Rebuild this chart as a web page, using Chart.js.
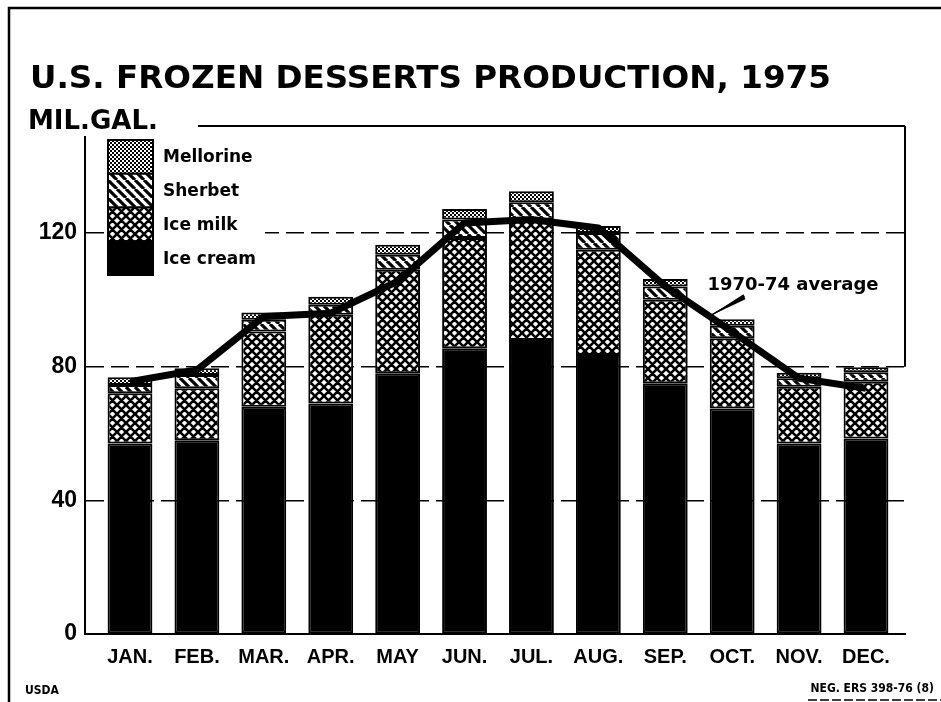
<!DOCTYPE html>
<html><head><meta charset="utf-8">
<script src="https://cdn.jsdelivr.net/npm/chart.js@4/dist/chart.umd.min.js"></script>
<style>html,body{margin:0;padding:0;background:#fff;} canvas{display:block;}</style>
</head><body>
<canvas id="c" width="941" height="702"></canvas>
<script>
// ---- data (million gallons) ----
const months = ['JAN.','FEB.','MAR.','APR.','MAY','JUN.','JUL.','AUG.','SEP.','OCT.','NOV.','DEC.'];
const iceCream  = [57, 58, 68, 69, 78, 85.5, 88, 83.5, 75, 67.5, 57, 58.5];
const iceMilk   = [15, 15.5, 22.5, 26.5, 31, 33, 36, 31.5, 25, 21, 17, 17];
const sherbet   = [2.5, 4, 3.5, 3, 4.5, 5.5, 5.2, 5, 4, 3.7, 2.5, 2.8];
const mellorine = [2.3, 2, 2.2, 2.4, 3, 3.2, 3.3, 2.1, 2.2, 2, 1.7, 1.5];
const average7074 = [75.5, 79, 95, 96, 105.5, 123, 124, 121.5, 104, 90.5, 76.5, 73.5];
const yTicks = [0, 40, 80, 120];
const seriesNames = ['Ice cream', 'Ice milk', 'Sherbet', 'Mellorine'];
const averageLabel = '1970-74 average';

// ---- fill patterns ----
function pattern(kind){
  const c = document.createElement('canvas');
  const g = c.getContext('2d');
  let s;
  if (kind === 'cross') {
    s = 9; c.width = c.height = s;
    g.fillStyle = '#fff'; g.fillRect(0,0,s,s);
    g.strokeStyle = '#000'; g.lineWidth = 2.6; g.beginPath();
    for (let k=-1;k<=1;k++){ g.moveTo(k*s,0); g.lineTo(k*s+s,s); g.moveTo(k*s+s,0); g.lineTo(k*s,s); }
    g.stroke();
  } else if (kind === 'stripe') {
    s = 9; c.width = c.height = s;
    g.fillStyle = '#fff'; g.fillRect(0,0,s,s);
    g.strokeStyle = '#000'; g.lineWidth = 3.2; g.beginPath();
    for (let k=-1;k<=1;k++){ g.moveTo(k*s,0); g.lineTo(k*s+s,s); }
    g.stroke();
  } else {
    s = 4; c.width = c.height = s;
    g.fillStyle = '#fff'; g.fillRect(0,0,s,s);
    g.fillStyle = '#000'; g.fillRect(0,0,2,2); g.fillRect(2,2,2,2);
  }
  return g.createPattern(c, 'repeat');
}
const fills = ['#000', pattern('cross'), pattern('stripe'), pattern('dots')];
const barSeries = [iceCream, iceMilk, sherbet, mellorine];

const toXY = arr => arr.map((v,i)=>({x:i, y:v}));

const datasets = barSeries.map((arr,k)=>({
  type:'bar', label: seriesNames[k], data: toXY(arr),
  backgroundColor: fills[k], borderColor:'#000', borderWidth: 2, borderSkipped: false,
  categoryPercentage: 1, barPercentage: 0.67
}));
datasets.push({
  type:'line', label: averageLabel, data: toXY(average7074), stack:'avg', order:-1,
  borderColor:'#000', borderWidth:7, pointRadius:0, tension:0,
  borderJoinStyle:'round', borderCapStyle:'butt', fill:false
});

const FONT_TXT = '"DejaVu Sans", sans-serif';
const FONT_AX = '"Liberation Sans", Arial, sans-serif';

const decor = {
  id:'decor',
  afterDatasetsDraw(chart){
    const {ctx, chartArea:a} = chart;
    ctx.save();
    // legend (inside plot, top-left)
    const bars = chart.data.datasets.filter(d=>d.type==='bar').slice().reverse();
    const lx = a.left + 23, ly = a.top + 14, bw = 45, bh = 33.75;
    ctx.font = 'bold 17px ' + FONT_TXT;
    let tw = 0; bars.forEach(d=>{ tw = Math.max(tw, ctx.measureText(d.label).width); });
    ctx.fillStyle = '#fff';
    ctx.fillRect(lx-3, ly-3, bw + 12 + tw + 10, bh*bars.length + 6);
    bars.forEach((d,i)=>{
      ctx.fillStyle = d.backgroundColor; ctx.fillRect(lx, ly+i*bh, bw, bh);
      ctx.strokeStyle = '#000'; ctx.lineWidth = 2; ctx.strokeRect(lx, ly+i*bh, bw, bh);
      ctx.fillStyle = '#000'; ctx.textAlign='left'; ctx.textBaseline='middle';
      ctx.fillText(d.label, lx + bw + 10, ly + i*bh + bh/2 + 1);
    });
    // annotation for the average line
    const m = chart.getDatasetMeta(chart.data.datasets.length-1);
    const p0 = m.data[8], p1 = m.data[9];
    const t = 0.66;
    const tipX = p0.x + (p1.x-p0.x)*t, tipY = p0.y + (p1.y-p0.y)*t;
    const sx = tipX + 35, sy = tipY - 20;
    ctx.fillStyle = '#000';
    ctx.beginPath();
    ctx.moveTo(tipX, tipY); ctx.lineTo(sx+1, sy+3); ctx.lineTo(sx-1, sy-2); ctx.closePath(); ctx.fill();
    ctx.lineWidth = 1.5; ctx.strokeStyle='#000';
    ctx.beginPath(); ctx.moveTo(tipX, tipY); ctx.lineTo(sx, sy); ctx.stroke();
    ctx.font = 'bold 18px ' + FONT_TXT; ctx.textAlign='left'; ctx.textBaseline='alphabetic';
    ctx.fillText(averageLabel, tipX - 2, tipY - 26);
    ctx.restore();
  },
  afterDraw(chart){
    const {ctx, chartArea:a, scales:{y}} = chart;
    ctx.save();
    ctx.strokeStyle = '#000';
    // plot frame: top and right (down to 80 line)
    ctx.lineWidth = 2;
    ctx.beginPath();
    ctx.moveTo(a.left, a.top); ctx.lineTo(a.right, a.top);
    ctx.moveTo(a.right, a.top); ctx.lineTo(a.right, y.getPixelForValue(80));
    ctx.stroke();
    // unit label over the frame corner
    ctx.fillStyle = '#fff'; ctx.fillRect(24, a.top-20, 174, 30);
    ctx.fillStyle = '#000';
    ctx.font = 'bold 26px ' + FONT_TXT; ctx.textAlign='left'; ctx.textBaseline='alphabetic';
    ctx.fillText('MIL.GAL.', 28, a.top + 3);
    // title
    ctx.font = 'bold 32.6px ' + FONT_TXT;
    ctx.fillText('U.S. FROZEN DESSERTS PRODUCTION, 1975', 30, 88);
    // footer
    ctx.font = 'bold 12px "Liberation Sans Narrow", "DejaVu Sans Condensed", "Liberation Sans", sans-serif';
    ctx.fillText('USDA', 25, 694);
    ctx.textAlign = 'right';
    ctx.fillText('NEG. ERS 398-76 (8)', 934, 692);
    ctx.lineWidth = 1.5; ctx.setLineDash([9,3]);
    ctx.beginPath(); ctx.moveTo(808, 700); ctx.lineTo(941, 700); ctx.stroke();
    ctx.setLineDash([]);
    // outer frame
    ctx.lineWidth = 2.5;
    ctx.beginPath(); ctx.moveTo(9, 702); ctx.lineTo(9, 8); ctx.lineTo(941, 8); ctx.stroke();
    ctx.restore();
  }
};

new Chart(document.getElementById('c'), {
  type:'bar',
  data:{ datasets },
  options:{
    responsive:false, animation:false, devicePixelRatio:1,
    layout:{ padding:{ top:126, right:36, left:0, bottom:0 } },
    plugins:{ legend:{display:false}, tooltip:{enabled:false}, title:{display:false} },
    scales:{
      x:{ type:'linear', min:-0.6725, max:11.583, stacked:true, offset:false,
          grid:{ display:false, drawTicks:false },
          border:{ display:true, color:'#000', width:2 },
          ticks:{ stepSize:1, includeBounds:false, autoSkip:false, maxRotation:0, minRotation:0, padding:11,
                  color:'#000', font:{ family:FONT_AX, weight:'bold', size:20 },
                  callback:(v)=> Number.isInteger(v) && months[v] ? months[v] : '' },
          afterFit:(s)=>{ s.height = 68; } },
      y:{ type:'linear', min:0, max:152, stacked:true,
          grid:{ drawTicks:false, lineWidth:1.6,
                 color:(c)=> (c.tick && c.tick.value>0 && yTicks.includes(c.tick.value)) ? '#000' : 'rgba(0,0,0,0)' },
          border:{ display:true, color:'#000', width:2, dash:[18,7] },
          ticks:{ stepSize:40, includeBounds:false, padding:8, color:'#000',
                  font:{ family:FONT_AX, weight:'bold', size:23 },
                  callback:(v)=> yTicks.includes(v) ? String(v) : '' },
          afterFit:(s)=>{ s.width = 85; } }
    }
  },
  plugins:[decor]
});
</script>
</body></html>
